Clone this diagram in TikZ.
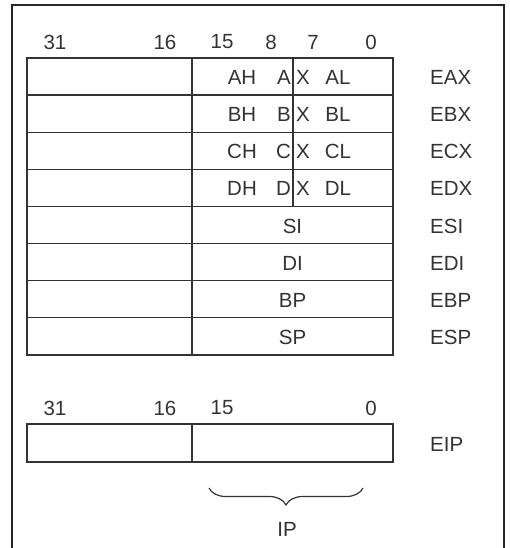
\documentclass[tikz,border=0pt]{standalone}
\usepackage{fontspec}
\setmainfont{Liberation Sans}
\usetikzlibrary{decorations.pathreplacing}
\begin{document}
\begin{tikzpicture}[x=1pt,y=-1pt,
  lbl/.style={inner sep=0pt,font=\fontsize{20.5}{20.5}\selectfont,text=black!80},
  grid/.style={draw=black!80,line width=1.2pt},
  frame/.style={draw=black!85,line width=1.4pt}]
\useasboundingbox (0,0) rectangle (509,548);
% outer frame (open at the bottom)
\draw[frame] (12,548) -- (12,5) -- (504,5) -- (504,548);
% header bits
\foreach \t/\x in {31/55,16/165,15/222,8/271,7/313,0/371}
  \node[lbl] (h\t) at (\x,42) {\t};
% register table
\def\rh{37.1}
\draw[grid] (27,58) rectangle (393,355);
\foreach \i in {1,...,7} \draw[grid] (27,58+\i*\rh) -- (393,58+\i*\rh);
\draw[grid] (192,58) -- (192,355);
\draw[grid] (293,58) -- (293,206.4);
% 8-bit / 16-bit parts
\foreach \r/\n in {0/A,1/B,2/C,3/D}{
  \node[lbl] (hi\n) at (242,{58+(\r+0.5)*\rh+1}) {\n H};
  \node[lbl,anchor=east] (ah\n) at (291,{58+(\r+0.5)*\rh+1}) {\n};
  \node[lbl,anchor=west] (ax\n) at (296,{58+(\r+0.5)*\rh+1}) {X};
  \node[lbl] (lo\n) at (338,{58+(\r+0.5)*\rh+1}) {\n L};
  \node[lbl,anchor=west] (e\n) at (430,{58+(\r+0.5)*\rh+1}) {E\n X};
}
\foreach \r/\n in {4/SI,5/DI,6/BP,7/SP}{
  \node[lbl] (s\n) at (292.5,{58+(\r+0.5)*\rh+1}) {\n};
  \node[lbl,anchor=west] (e\n) at (430,{58+(\r+0.5)*\rh+1}) {E\n};
}
% EIP
\foreach \t/\x in {31/55,16/165,15/222,0/371}
  \node[lbl] (g\t) at (\x,408) {\t};
\draw[grid] (27,424) rectangle (393,462);
\draw[grid] (192,424) -- (192,462);
\node[lbl,anchor=west] (eip) at (430,444) {EIP};
\coordinate (bl) at (209,488);
\coordinate (br) at (363,488);
\draw[draw=black!80,line width=1.2pt,decorate,decoration={brace,amplitude=17pt,mirror}] (bl) -- (br);
\node[lbl] (ip) at (287,529) {IP};
\end{tikzpicture}
\end{document}
